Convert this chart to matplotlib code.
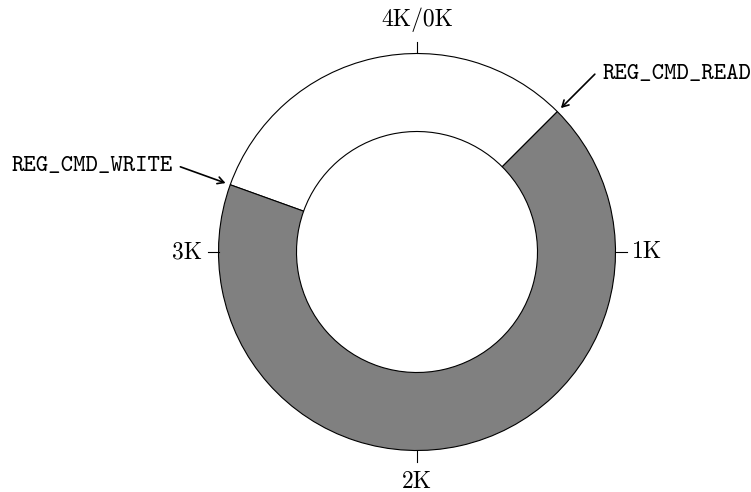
import os
import numpy as np
import matplotlib
matplotlib.use('Agg')
import matplotlib.pyplot as plt
from matplotlib.patches import Wedge
from matplotlib.font_manager import FontProperties

# ring buffer, positions in K (clockwise from top)
buf_size = 4.0
tick_pos = [0, 1, 2, 3]
tick_labels = ['4K/0K', '1K', '2K', '3K']
ptr_names = ['REG_CMD_READ', 'REG_CMD_WRITE']
ptr_pos = [0.5, 3.22]
read_pos = 0.5
write_pos = 3.22

R_out = 198.5
R_in = 120.5

fdir = os.path.join(matplotlib.get_data_path(), 'fonts', 'ttf')
f_rm = FontProperties(fname=os.path.join(fdir, 'cmr10.ttf'), size=17)
f_tt = FontProperties(fname=os.path.join(fdir, 'cmtt10.ttf'), size=17)


def ang(p):
    # position in K -> math angle in degrees
    return 90.0 - p / buf_size * 360.0


def pt(p, r):
    a = np.deg2rad(ang(p))
    return r * np.cos(a), r * np.sin(a)


fig = plt.figure(figsize=(7.51, 4.92), dpi=100)
ax = fig.add_axes([0, 0, 1, 1])
ax.set_xlim(-417, 751 - 417)
ax.set_ylim(-240, 252)
ax.set_aspect('equal')
ax.axis('off')

# used part (read -> write, clockwise) gray, free part white
used = Wedge((0, 0), R_out, ang(write_pos), ang(read_pos), width=R_out - R_in,
             facecolor='#808080', edgecolor='black', lw=0.8)
free = Wedge((0, 0), R_out, ang(read_pos), ang(write_pos) + 360, width=R_out - R_in,
             facecolor='white', edgecolor='black', lw=0.8)
ax.add_patch(free)
ax.add_patch(used)

# ticks and labels
for p, lab in zip(tick_pos, tick_labels):
    x0, y0 = pt(p, R_out)
    x1, y1 = pt(p, R_out + 11)
    ax.plot([x0, x1], [y0, y1], color='black', lw=0.8)
    if p == 0:
        x, y = pt(p, R_out + 27)
        ax.text(x, y, lab, fontproperties=f_rm, ha='center', va='baseline')
    elif p == 1:
        x, y = pt(p, R_out + 16)
        ax.text(x, y, lab, fontproperties=f_rm, ha='left', va='center')
    elif p == 2:
        x, y = pt(p, R_out + 38)
        ax.text(x, y, lab, fontproperties=f_rm, ha='center', va='baseline')
    else:
        x, y = pt(p, R_out + 16)
        ax.text(x, y, lab, fontproperties=f_rm, ha='right', va='center')

# pointer arrows
for name, p in zip(ptr_names, ptr_pos):
    hx, hy = pt(p, R_out + 5)
    tx, ty = pt(p, R_out + 53)
    ax.annotate('', xy=(hx, hy), xytext=(tx, ty),
                arrowprops=dict(arrowstyle='->,head_length=0.45,head_width=0.25',
                                lw=1.2, color='black', shrinkA=0, shrinkB=0))
    if tx > 0:
        ax.text(tx + 8, ty, name, fontproperties=f_tt, ha='left', va='center')
    else:
        ax.text(tx - 8, ty, name, fontproperties=f_tt, ha='right', va='center')

fig.savefig('out.png', dpi=100)
